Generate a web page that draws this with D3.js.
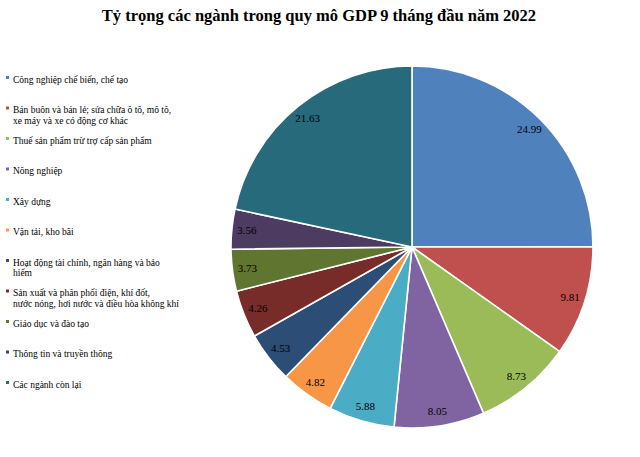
<!DOCTYPE html>
<html><head><meta charset="utf-8">
<script src="https://cdn.jsdelivr.net/npm/d3@7"></script>
<style>body{margin:0;background:#fff}svg{display:block}</style>
</head><body>
<svg id="c" width="640" height="457"></svg>
<script>
const categories = [
  "Công nghiệp chế biến, chế tạo",
  "Bán buôn và bán lẻ; sửa chữa ô tô, mô tô, xe máy và xe có động cơ khác",
  "Thuế sản phẩm trừ trợ cấp sản phẩm",
  "Nông nghiệp",
  "Xây dựng",
  "Vận tải, kho bãi",
  "Hoạt động tài chính, ngân hàng và bảo hiểm",
  "Sản xuất và phân phối điện, khí đốt, nước nóng, hơi nước và điều hòa không khí",
  "Giáo dục và đào tạo",
  "Thông tin và truyền thông",
  "Các ngành còn lại"
];
const legendLines = [
  ["Công nghiệp chế biến, chế tạo"],
  ["Bán buôn và bán lẻ; sửa chữa ô tô, mô tô,", "xe máy và xe có động cơ khác"],
  ["Thuế sản phẩm trừ trợ cấp sản phẩm"],
  ["Nông nghiệp"],
  ["Xây dựng"],
  ["Vận tải, kho bãi"],
  ["Hoạt động tài chính, ngân hàng và bảo", "hiểm"],
  ["Sản xuất và phân phối điện, khí đốt,", "nước nóng, hơi nước và điều hòa không khí"],
  ["Giáo dục và đào tạo"],
  ["Thông tin và truyền thông"],
  ["Các ngành còn lại"]
];
const values = [24.99, 9.81, 8.73, 8.05, 5.88, 4.82, 4.53, 4.26, 3.73, 3.56, 21.63];
const colors = ["#4F81BD","#C0504D","#9BBB59","#8064A2","#4BACC6","#F79646","#2C4D75","#772C2A","#5F7530","#4D3B62","#276A7C"];
const title = "Tỷ trọng các ngành trong quy mô GDP 9 tháng đầu năm 2022";

const svg = d3.select("#c");
const font = "'Liberation Serif','Times New Roman',serif";

svg.append("text").attr("x", 319).attr("y", 21).attr("text-anchor","middle")
  .attr("font-family", font).attr("font-weight","bold").attr("font-size", 16.5)
  .attr("fill","#000").text(title);

const cx = 412, cy = 247, R = 181;
const pie = d3.pie().sort(null).value(d => d)(values);
const arc = d3.arc().innerRadius(0).outerRadius(R);
const labelArc = d3.arc().innerRadius(166).outerRadius(166);
const g = svg.append("g").attr("transform", `translate(${cx},${cy})`);
g.selectAll("path").data(pie).join("path")
  .attr("d", arc).attr("fill", (d,i) => colors[i])
  .attr("stroke", "#fff").attr("stroke-width", 1.6).attr("stroke-linejoin","round");
g.selectAll("text").data(pie).join("text")
  .attr("transform", d => `translate(${labelArc.centroid(d)})`)
  .attr("text-anchor","middle").attr("dy","0.35em")
  .attr("font-family", font).attr("font-size", 11).attr("fill","#000")
  .text(d => d.data.toFixed(2));

const lg = svg.append("g");
const y0 = 80, step = 30.5;
legendLines.forEach((lines, i) => {
  const y = y0 + i * step;
  lg.append("rect").attr("x", 6).attr("y", y - 4).attr("width", 3).attr("height", 3).attr("fill", colors[i]);
  const t = lg.append("text").attr("x", 13).attr("y", y).attr("dy", "0.3em")
    .attr("font-family", font).attr("font-size", 9.5).attr("fill", "#000");
  lines.forEach((ln, k) => t.append("tspan").attr("x", 13).attr("dy", k === 0 ? "0.3em" : "1.1em").text(ln));
});
</script>
</body></html>
